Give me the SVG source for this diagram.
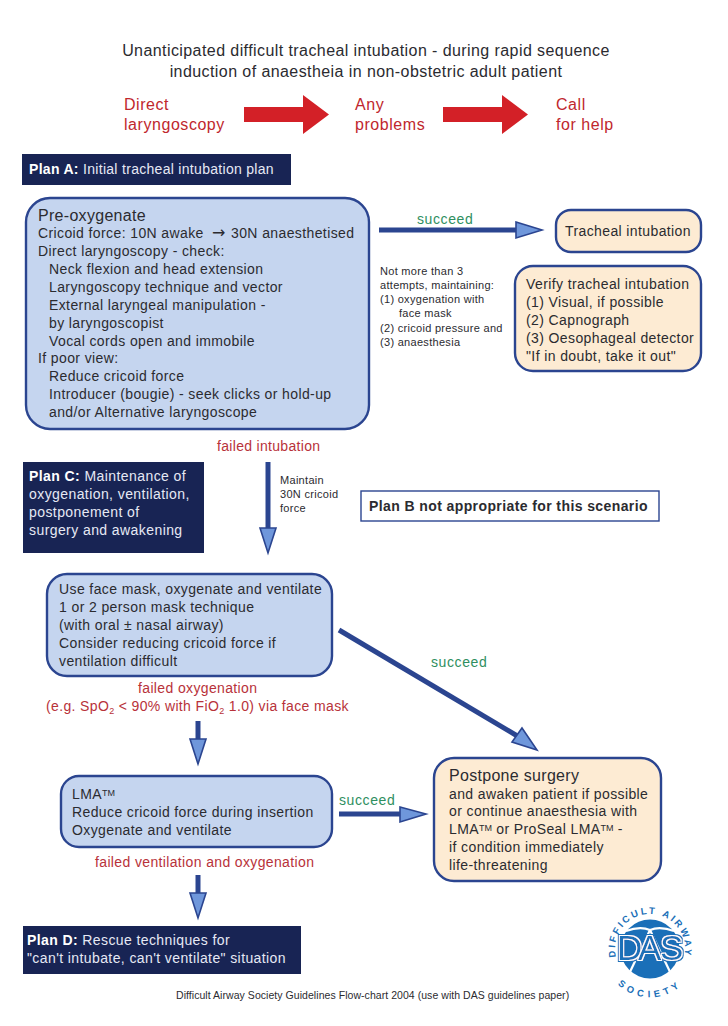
<svg xmlns="http://www.w3.org/2000/svg" width="728" height="1026" viewBox="0 0 728 1026">
<style>
text{font-family:"Liberation Sans",Arial,sans-serif;fill:#2b2b30}
.t{font-size:16px;letter-spacing:.42px}
.r{font-size:16px;fill:#c0272d;letter-spacing:.55px}
.b{font-size:14px;letter-spacing:.39px}
.l{font-size:14px;fill:#b8323a;letter-spacing:.36px}
.g{font-size:14px;fill:#2f8f5f;letter-spacing:.6px}
.s{font-size:11px;letter-spacing:.3px}
.p{font-size:14px;fill:#e6e9f4;letter-spacing:.42px}
.tm{font-size:9px;letter-spacing:0}
.blue{fill:#c5d5ef;stroke:#2b4590;stroke-width:2.4}
.tan{fill:#fdebd3;stroke:#2b4590;stroke-width:2.4}
.navy{fill:#182454}
.shaft{stroke:#2b4590;fill:none}
.head{fill:#6f97db;stroke:#2b4590;stroke-width:1.6;stroke-linejoin:miter}
.red{fill:#d32027}
.ring{font-size:9.5px;font-weight:bold;fill:#1a6fb8;letter-spacing:2.4px;text-anchor:middle}
.ring2{font-size:9.5px;font-weight:bold;fill:#1a6fb8;letter-spacing:4.2px;text-anchor:middle}
.das{font-size:35px;fill:#1a6fb8}
</style>
<defs>
<path id="arcTop" d="M621.300 969A35 35 0 1 1 678.700 969"/>
<path id="arcBot" d="M610 975A47 47 0 0 0 690 975"/>
<filter id="dasEdge" x="-10%" y="-20%" width="120%" height="140%">
<feMorphology in="SourceAlpha" operator="dilate" radius="1.500" result="outer"/>
<feFlood flood-color="#1a6fb8"/><feComposite in2="outer" operator="in" result="blueEdge"/>
<feMorphology in="SourceAlpha" operator="dilate" radius=".7" result="inner"/>
<feFlood flood-color="#ffffff"/><feComposite in2="inner" operator="in" result="whiteEdge"/>
<feMerge><feMergeNode in="blueEdge"/><feMergeNode in="whiteEdge"/><feMergeNode in="SourceGraphic"/></feMerge>
</filter>
</defs>

<g id="title">
<text class="t" x="366" y="56" text-anchor="middle">Unanticipated difficult tracheal intubation - during rapid sequence</text>
<text class="t" x="366" y="77" text-anchor="middle">induction of anaestheia in non-obstetric adult patient</text>
</g>

<g id="direct-laryngoscopy"><text class="r" x="124" y="110">Direct</text><text class="r" x="124" y="130">laryngoscopy</text></g>
<g id="any-problems"><text class="r" x="355" y="110">Any</text><text class="r" x="355" y="130">problems</text></g>
<g id="call-for-help"><text class="r" x="556" y="110">Call</text><text class="r" x="556" y="130">for help</text></g>

<g id="plan-a"><rect class="navy" x="22" y="154" width="269" height="31"/><text class="p" x="29" y="174" style="letter-spacing:.3px"><tspan font-weight="bold" fill="#fff">Plan A:</tspan> Initial tracheal intubation plan</text></g>

<g id="preoxygenate">
<rect class="blue" x="26" y="198" width="343" height="231" rx="24"/>
<text x="38" y="221" font-size="16" letter-spacing=".3">Pre-oxygenate</text>
<text class="b" x="38" y="238">Cricoid force: 10N awake<tspan x="212" font-family="DejaVu Sans" font-size="16">→</tspan><tspan x="231">30N anaesthetised</tspan></text>
<text class="b" x="38" y="256">Direct laryngoscopy - check:</text>
<text class="b" x="49" y="274">Neck flexion and head extension</text>
<text class="b" x="49" y="292">Laryngoscopy technique and vector</text>
<text class="b" x="49" y="310">External laryngeal manipulation -</text>
<text class="b" x="49" y="328">by laryngoscopist</text>
<text class="b" x="49" y="346">Vocal cords open and immobile</text>
<text class="b" x="38" y="363">If poor view:</text>
<text class="b" x="49" y="381">Reduce cricoid force</text>
<text class="b" x="49" y="399">Introducer (bougie) - seek clicks or hold-up</text>
<text class="b" x="49" y="417">and/or Alternative laryngoscope</text>
</g>

<g id="tracheal-intubation"><rect class="tan" x="556" y="210" width="145" height="42" rx="15"/><text class="b" x="565" y="236">Tracheal intubation</text></g>

<g id="verify">
<rect class="tan" x="515" y="266" width="186" height="105" rx="18"/>
<text class="b" x="526" y="289">Verify tracheal intubation</text>
<text class="b" x="526" y="307">(1) Visual, if possible</text>
<text class="b" x="526" y="325">(2) Capnograph</text>
<text class="b" x="526" y="343">(3) Oesophageal detector</text>
<text class="b" x="526" y="361">"If in doubt, take it out"</text>
</g>

<g id="attempts-note">
<text class="s" x="380" y="275">Not more than 3</text>
<text class="s" x="380" y="289">attempts, maintaining:</text>
<text class="s" x="380" y="303">(1) oxygenation with</text>
<text class="s" x="399" y="317">face mask</text>
<text class="s" x="380" y="332">(2) cricoid pressure and</text>
<text class="s" x="380" y="346">(3) anaesthesia</text>
</g>

<g id="plan-c"><rect class="navy" x="23" y="462" width="181" height="91"/>
<text class="p" x="29" y="481"><tspan font-weight="bold" fill="#fff">Plan C:</tspan> Maintenance of</text>
<text class="p" x="29" y="499">oxygenation, ventilation,</text>
<text class="p" x="29" y="517">postponement of</text>
<text class="p" x="29" y="535">surgery and awakening</text></g>

<g id="maintain-note">
<text class="s" x="280" y="484">Maintain</text>
<text class="s" x="280" y="498">30N cricoid</text>
<text class="s" x="280" y="512">force</text>
</g>

<g id="plan-b"><rect x="361" y="491" width="298" height="30" fill="#fff" stroke="#2b4590" stroke-width="1.4"/><text x="369" y="511" font-size="14" font-weight="bold" letter-spacing=".4">Plan B not appropriate for this scenario</text></g>

<g id="face-mask">
<rect class="blue" x="47" y="574" width="285" height="102" rx="20"/>
<text class="b" x="59" y="594">Use face mask, oxygenate and ventilate</text>
<text class="b" x="59" y="612">1 or 2 person mask technique</text>
<text class="b" x="59" y="630">(with oral ± nasal airway)</text>
<text class="b" x="59" y="648">Consider reducing cricoid force if</text>
<text class="b" x="59" y="666">ventilation difficult</text>
</g>

<g id="lma">
<rect class="blue" x="61" y="776" width="271" height="71" rx="18"/>
<text class="b" x="72" y="799">LMA<tspan class="tm" dy="-3">TM</tspan></text>
<text class="b" x="72" y="817">Reduce cricoid force during insertion</text>
<text class="b" x="72" y="835">Oxygenate and ventilate</text>
</g>

<g id="postpone">
<rect class="tan" x="434" y="758" width="227" height="123" rx="20"/>
<text x="449" y="781" font-size="16" letter-spacing=".3">Postpone surgery</text>
<text class="b" x="449" y="799">and awaken patient if possible</text>
<text class="b" x="449" y="816">or continue anaesthesia with</text>
<text class="b" x="449" y="834">LMA<tspan class="tm" dy="-3">TM</tspan><tspan dy="3"> or ProSeal LMA</tspan><tspan class="tm" dy="-3">TM</tspan><tspan dy="3"> -</tspan></text>
<text class="b" x="449" y="852">if condition immediately</text>
<text class="b" x="449" y="870">life-threatening</text>
</g>

<g id="plan-d"><rect class="navy" x="23" y="926" width="278" height="48"/>
<text class="p" x="27" y="945" style="letter-spacing:.4px"><tspan font-weight="bold" fill="#fff">Plan D:</tspan> Rescue techniques for</text>
<text class="p" x="27" y="963" style="letter-spacing:.4px">"can't intubate, can't ventilate" situation</text></g>

<g id="connectors">
<polygon class="red" points="244,107 303,107 303,95 329,114.500 303,134 303,122 244,122"/>
<polygon class="red" points="443,107 502,107 502,95 528,114.500 502,134 502,122 443,122"/>

<path class="shaft" stroke-width="5" d="M379 230H516"/>
<polygon class="head" points="516,222 542,230 516,238"/>

<path class="shaft" stroke-width="5" d="M268 462V528"/>
<polygon class="head" points="260,528 268,553 276,528"/>

<path class="shaft" stroke-width="5" d="M339 630L519 737"/>
<polygon class="head" points="522,728 537,750 512,742"/>

<path class="shaft" stroke-width="5" d="M198 721V739"/>
<polygon class="head" points="190,739 198,764 206,739"/>

<path class="shaft" stroke-width="5" d="M339 814H400"/>
<polygon class="head" points="400,807 426,814 400,822"/>

<path class="shaft" stroke-width="5" d="M198 875V893"/>
<polygon class="head" points="190,893 198,918 206,893"/>
</g>

<g id="connector-labels">
<text class="g" x="417" y="224">succeed</text>
<text class="l" x="217" y="451" style="letter-spacing:.31px">failed intubation</text>
<text class="g" x="431" y="667">succeed</text>
<text class="l" x="138" y="693">failed oxygenation</text>
<text class="l" x="46" y="711">(e.g. SpO<tspan font-size="9" dy="3">2</tspan><tspan dy="-3"> &lt; 90% with FiO</tspan><tspan font-size="9" dy="3">2</tspan><tspan dy="-3"> 1.0) via face mask</tspan></text>
<text class="g" x="339" y="805">succeed</text>
<text class="l" x="95" y="867">failed ventilation and oxygenation</text>
</g>

<g id="das-logo">
<circle cx="650" cy="949" r="29.500" fill="#1a6fb8"/>
<path d="M650 930L628 976M650 930L672 976M626 931Q640 926 650 930Q660 926 674 931" stroke="#fff" stroke-width="2.200" fill="none"/>
<text class="das" y="960" x="617 638 660" filter="url(#dasEdge)">DAS</text>
<text class="ring"><textPath href="#arcTop" startOffset="50%">DIFFICULT AIRWAY</textPath></text>
<text class="ring2"><textPath href="#arcBot" startOffset="50%">SOCIETY</textPath></text>
</g>

<g id="footer"><text x="176" y="999" font-size="10.500" letter-spacing=".05">Difficult Airway Society Guidelines Flow-chart 2004 (use with DAS guidelines paper)</text></g>
</svg>
